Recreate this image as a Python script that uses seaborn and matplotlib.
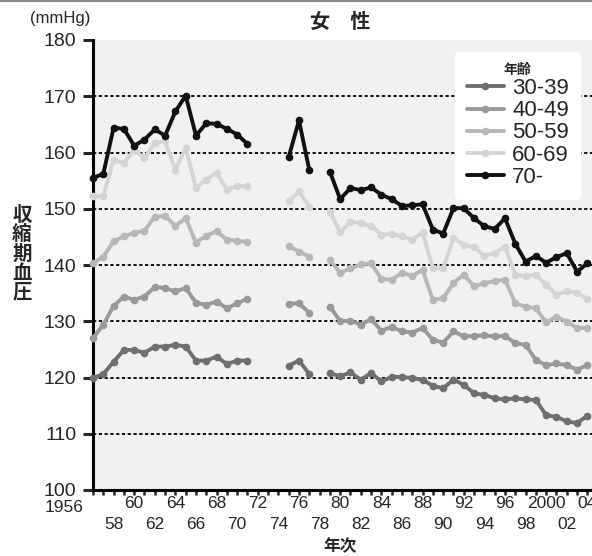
import numpy as np
import pandas as pd
import matplotlib
matplotlib.use("Agg")
import matplotlib.pyplot as plt
from matplotlib.lines import Line2D
from matplotlib.ticker import FixedLocator, FuncFormatter
from matplotlib import font_manager
import seaborn as sns

# survey years (no data 1972-74 and 1978)
years = list(range(1956, 1972)) + [1975, 1976, 1977] + list(range(1979, 2005))

bp_30 = [119.9, 120.6, 122.8, 124.9, 124.9, 124.4, 125.5, 125.5, 125.8, 125.5, 123.0, 123.0, 123.7, 122.4, 123.0, 123.0,
         122.1, 123.0, 120.6,
         120.8, 120.2, 120.9, 119.6, 120.8, 119.3, 120.1, 120.1, 119.9, 119.6, 118.5, 118.1, 119.6, 118.7, 117.2, 116.9,
         116.3, 116.1, 116.3, 116.1, 116.0, 113.3, 113.0, 112.2, 111.9, 113.2]
bp_40 = [127.0, 129.4, 132.7, 134.4, 133.8, 134.4, 136.1, 135.9, 135.3, 135.9, 133.3, 132.9, 133.5, 132.3, 133.2, 134.0,
         133.1, 133.2, 131.5,
         132.6, 130.0, 130.1, 129.4, 130.4, 128.3, 129.0, 128.2, 128.0, 128.8, 126.7, 126.2, 128.2, 127.3, 127.4, 127.5,
         127.3, 127.4, 126.1, 125.8, 123.1, 122.2, 122.5, 122.2, 121.4, 122.2]
bp_50 = [140.3, 141.5, 144.2, 145.1, 145.7, 146.1, 148.6, 148.7, 147.0, 148.3, 144.0, 145.2, 146.0, 144.5, 144.3, 144.1,
         143.3, 142.4, 141.5,
         140.9, 138.6, 139.4, 140.1, 140.3, 137.5, 137.4, 138.6, 138.1, 139.1, 133.8, 134.1, 136.8, 138.3, 136.2, 136.8,
         137.1, 137.4, 133.2, 132.6, 132.3, 129.8, 130.8, 129.9, 128.8, 128.8]
bp_60 = [152.2, 152.2, 158.7, 158.1, 160.5, 159.0, 161.7, 162.0, 156.9, 160.8, 153.7, 155.2, 156.4, 153.4, 154.1, 154.0,
         151.3, 153.1, 150.4,
         149.5, 145.8, 147.7, 147.4, 147.0, 145.4, 145.6, 145.1, 144.5, 145.8, 139.4, 139.4, 144.8, 143.6, 143.2, 141.6,
         142.2, 143.2, 138.3, 138.0, 138.3, 136.5, 134.7, 135.3, 135.1, 133.9]
bp_70 = [155.5, 156.2, 164.4, 164.2, 161.2, 162.3, 164.1, 163.0, 167.3, 170.1, 163.0, 165.2, 165.1, 164.2, 163.2, 161.5,
         159.2, 165.7, 156.9,
         156.6, 151.7, 153.7, 153.3, 153.8, 152.5, 151.7, 150.5, 150.6, 150.8, 146.3, 145.6, 150.1, 150.1, 148.3, 146.9,
         146.4, 148.3, 143.8, 140.6, 141.6, 140.4, 141.4, 142.1, 138.8, 140.3]

ages = ["30-39", "40-49", "50-59", "60-69", "70-"]
colors = ["#6f6f6f", "#999999", "#b7b7b7", "#d4d4d4", "#111111"]

# upper row labels (every 4 years from 1956) and lower row labels (every 4 years from 1958)
top_years = list(range(1956, 2005, 4))
top_labels = ["1956", "60", "64", "68", "72", "76", "80", "84", "88", "92", "96", "2000", "04"]
low_years = list(range(1958, 2005, 4))
low_labels = ["58", "62", "66", "70", "74", "78", "82", "86", "90", "94", "98", "02"]

# line segments break where years are missing
seg = np.cumsum(np.diff(years, prepend=years[0]) > 1)
frames = []
for age, vals in zip(ages, [bp_30, bp_40, bp_50, bp_60, bp_70]):
    frames.append(pd.DataFrame({"year": years, "bp": vals, "age": age, "seg": seg}))
df = pd.concat(frames, ignore_index=True)

sns.set_style("white")
plt.rcParams['font.family'] = ['Liberation Sans', 'Noto Sans CJK JP', 'DejaVu Sans']
installed = {f.name for f in font_manager.fontManager.ttflist}
narrow = 'Liberation Sans Narrow' if 'Liberation Sans Narrow' in installed else 'Liberation Sans'
xsize = 13.5 if narrow == 'Liberation Sans Narrow' else 12.5
cjk = ['Noto Sans CJK JP', 'DejaVu Sans']

fig = plt.figure(figsize=(5.92, 5.56), dpi=100)
ax = fig.add_axes([93 / 592, 66 / 556, 499 / 592, 450 / 556])
ax.set_facecolor("#f1f1f1")

for t in range(110, 180, 10):
    ax.axhline(t, color="black", lw=1.3, ls=(0, (1.8, 1.4)), zorder=1)

pal = dict(zip(ages, colors))
sns.lineplot(data=df, x="year", y="bp", hue="age", units="seg", estimator=None,
             hue_order=ages, palette=pal, marker="o", markersize=5.5, markeredgewidth=0,
             linewidth=2.8, legend=False, sort=False, ax=ax, clip_on=False, zorder=3)

ax.set_xlim(1956, 2004.45)
ax.set_ylim(100, 180)
ax.set_yticks(range(100, 181, 10))
ax.tick_params(axis="y", length=7, width=2.2, pad=5, labelsize=14, direction="out", left=True)

# major ticks carry the upper row, minor ticks (every year) carry the lower row
ax.xaxis.set_major_locator(FixedLocator(top_years))
ax.set_xticklabels([""] + top_labels[1:])
low_map = dict(zip(low_years, low_labels))
ax.xaxis.set_minor_locator(FixedLocator(list(range(1957, 2005))))
ax.xaxis.set_minor_formatter(FuncFormatter(lambda v, p: low_map.get(int(round(v)), "")))
ax.tick_params(axis="x", which="major", length=3.5, width=1.8, pad=1, direction="out",
               bottom=True, labelsize=xsize)
ax.tick_params(axis="x", which="minor", length=3.5, width=1.8, pad=16, direction="out",
               bottom=True, labelsize=xsize)
for lab in ax.get_xticklabels(which="both"):
    lab.set_fontfamily(narrow)
# first year label sits left of the axis corner
fig.text(84 / 592, 1 - 500 / 556, top_labels[0], ha="right", va="top", fontsize=xsize,
         family=narrow)

for s in ["top", "right"]:
    ax.spines[s].set_visible(False)
for s in ["left", "bottom"]:
    ax.spines[s].set_linewidth(2.2)
    ax.spines[s].set_color("black")
ax.set_xlabel("")
ax.set_ylabel("")

handles = [Line2D([], [], color=c, lw=2.8, marker="o", markersize=5.5, markeredgewidth=0) for c in colors]
leg = ax.legend(handles, ages, title="年齢", loc="upper right",
                bbox_to_anchor=(580 / 592, 1 - 52 / 556), bbox_transform=fig.transFigure,
                prop={"family": "Liberation Sans", "size": 16}, frameon=True, fancybox=True,
                handlelength=1.7, handletextpad=0.35, labelspacing=0.05, borderpad=0.5,
                borderaxespad=0)
leg.get_title().set_fontfamily(cjk)
leg.get_title().set_fontweight("bold")
leg.get_title().set_fontsize(10)
leg.get_frame().set_facecolor("white")
leg.get_frame().set_edgecolor("white")
leg.get_frame().set_alpha(1)

fig.text(340 / 592, 1 - 22 / 556, "女\u3000性", ha="center", va="center", fontsize=14.5,
         fontweight="bold", family=cjk)
fig.text(60 / 592, 1 - 18 / 556, "(mmHg)", ha="center", va="center", fontsize=12)
fig.text(22 / 592, 1 - 254 / 556, "\n".join("収縮期血圧"), ha="center", va="center",
         fontsize=14, fontweight="bold", family=cjk, linespacing=1.0)
fig.text(340 / 592, 1 - 546 / 556, "年次", ha="center", va="center", fontsize=12,
         fontweight="bold", family=cjk)
fig.add_artist(Line2D([0, 1], [1, 1], color="#8a8a8a", lw=3, transform=fig.transFigure))

fig.savefig("out.png", dpi=100)
